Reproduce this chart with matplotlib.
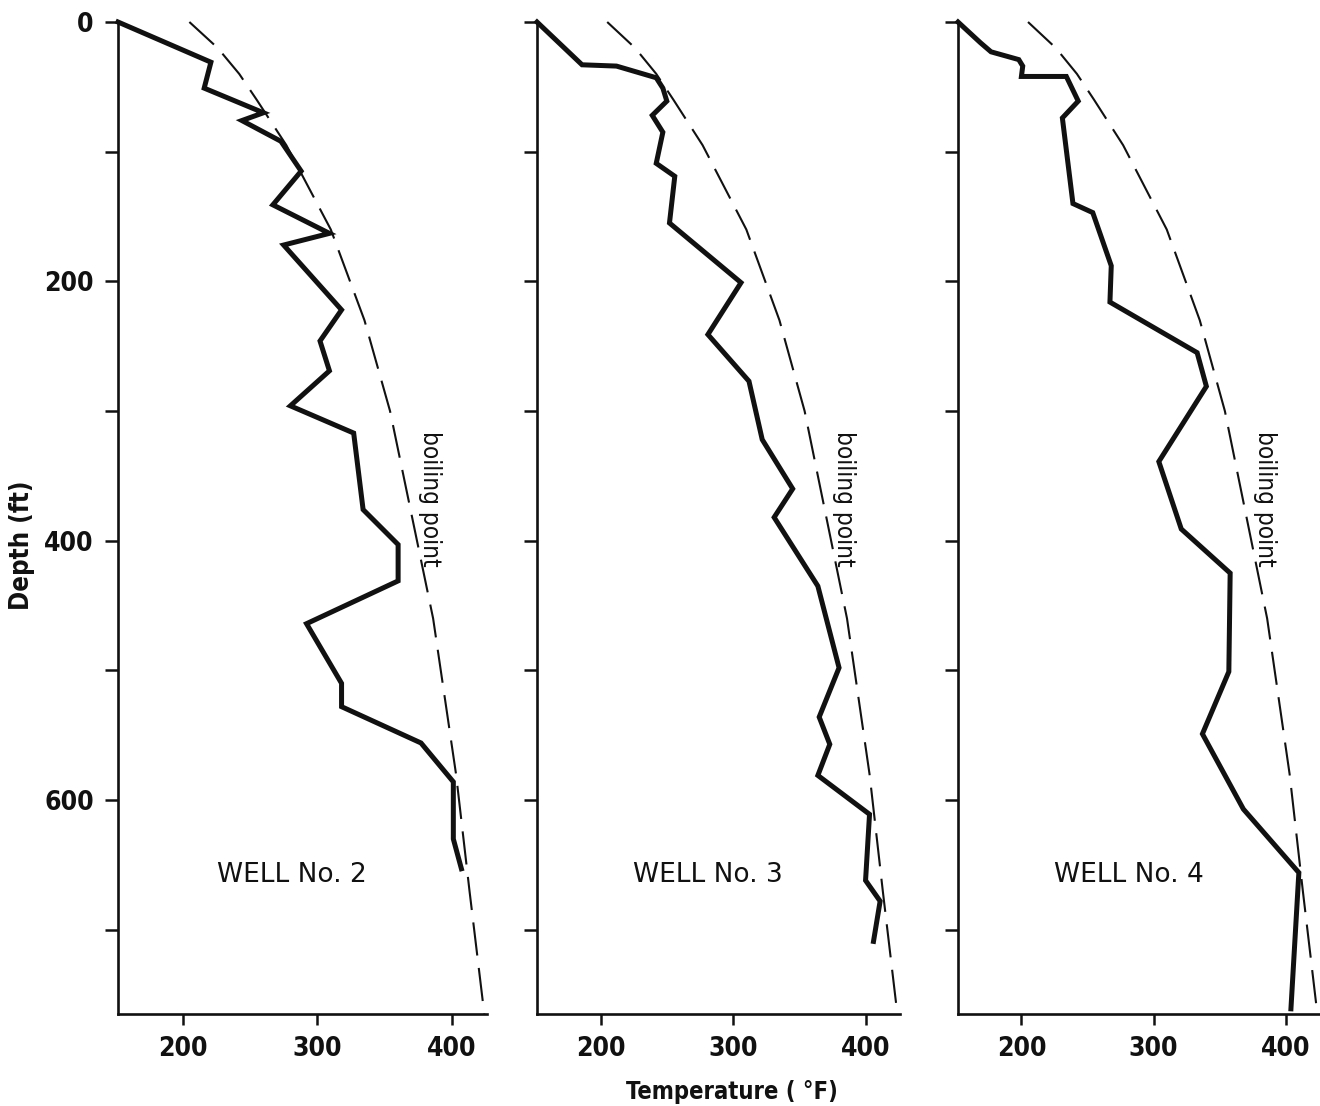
import matplotlib.pyplot as plt
from matplotlib import font_manager

W, H = 1320, 1106

# boiling point with depth (dashed curve, same in each panel)
bp_depth = [0, 20, 40, 60, 95, 160, 230, 300, 370, 460, 580, 670, 765]
bp_temp = [205, 226, 242, 255, 277, 310, 335, 354, 368, 386, 403, 413, 424]

# measured temperature profiles (deg F) vs depth (ft)
well2_temp = [152, 221, 216, 260, 244, 273, 288, 267, 309, 275, 318, 302, 309,
              280, 327, 334, 360, 360, 292, 318, 318, 377, 401, 401, 407]
well2_depth = [0, 31, 51, 70, 76, 92, 115, 141, 163, 172, 222, 246, 269,
               296, 317, 376, 403, 431, 464, 510, 528, 556, 586, 630, 653]

well3_temp = [152, 186, 212, 242, 247, 250, 239, 247, 242, 256, 252, 306, 281,
              312, 322, 345, 331, 364, 380, 365, 373, 364, 403, 400, 411, 406]
well3_depth = [0, 33, 34, 43, 51, 61, 72, 85, 109, 119, 155, 201, 241,
               277, 322, 360, 382, 435, 498, 536, 557, 581, 611, 662, 678, 709]

well4_temp = [152, 169, 177, 198, 201, 200, 234, 243, 231, 239, 254, 268, 267,
              333, 340, 304, 321, 358, 357, 337, 368, 410, 404]
well4_depth = [0, 16, 23, 29, 34, 42, 42, 61, 74, 140, 147, 188, 216,
               255, 281, 339, 391, 425, 501, 549, 607, 656, 761]

wells = [("WELL No. 2", well2_temp, well2_depth),
         ("WELL No. 3", well3_temp, well3_depth),
         ("WELL No. 4", well4_temp, well4_depth)]

x_ticks = [200, 300, 400]
y_major = [0, 200, 400, 600]
y_minor = [100, 300, 500, 700]


# the original uses a condensed grotesque; take a condensed face if one is installed
def condensed(weight):
    for f in font_manager.fontManager.ttflist:
        narrow = f.stretch == 'condensed' or 'Condensed' in f.name or 'Narrow' in f.name
        if narrow and f.weight == weight and f.style == 'normal':
            return font_manager.FontProperties(fname=f.fname)
    return None


bold_fp = condensed(700)
reg_fp = condensed(400)
if bold_fp is None:
    bold_fp = font_manager.FontProperties(family='Liberation Sans', weight='bold')
    tick_size, xlabel_size, ylabel_size = 18, 16, 17
else:
    tick_size, xlabel_size, ylabel_size = 19, 17, 18.5
if reg_fp is None:
    reg_fp = font_manager.FontProperties(family='Liberation Sans')
    bp_size = 18
else:
    bp_size = 17.5

ink = '#111111'

fig = plt.figure(figsize=(W / 100, H / 100), dpi=100)
fig.patch.set_facecolor('white')

lefts = [118, 537, 958]
widths = [369, 363, 362]
top, bottom = 22, 1014

for i, (name, temp, depth) in enumerate(wells):
    ax = fig.add_axes([lefts[i] / W, (H - bottom) / H, widths[i] / W, (bottom - top) / H])
    ax.plot(bp_temp, bp_depth, color=ink, lw=1.5, dashes=(16, 6), clip_on=False)
    ax.plot(temp, depth, color=ink, lw=3.6, solid_joinstyle='miter', clip_on=False)

    ax.set_xlim(152, 426)
    ax.set_ylim(765, 0)
    for s in ['top', 'right']:
        ax.spines[s].set_visible(False)
    for s in ['left', 'bottom']:
        ax.spines[s].set_linewidth(1.9)
        ax.spines[s].set_color(ink)

    ax.set_xticks(x_ticks)
    ax.set_yticks(y_major)
    ax.set_yticks(y_minor, minor=True)
    ax.tick_params(axis='x', direction='out', length=8, width=1.8, pad=8, colors=ink)
    ax.tick_params(axis='y', which='both', direction='out', length=9.4, width=1.8,
                   pad=8, colors=ink)
    for lab in ax.get_xticklabels() + ax.get_yticklabels():
        lab.set_fontproperties(bold_fp)
        lab.set_fontsize(tick_size)
    if i > 0:
        ax.tick_params(axis='y', labelleft=False)

    ax.text(281, 658, name, ha='center', va='center', fontsize=19,
            family='DejaVu Sans', color=ink)
    ax.text(384, 368, "boiling point", ha='center', va='center', rotation=-90,
            fontproperties=reg_fp, fontsize=bp_size, color=ink)

fig.text(22 / W, 1 - 545 / H, "Depth (ft)", rotation=90, ha='center', va='center',
         fontproperties=bold_fp, fontsize=ylabel_size, color=ink)
fig.text(732 / W, 1 - 1092 / H, "Temperature ( °F)", ha='center', va='center',
         fontproperties=bold_fp, fontsize=xlabel_size, color=ink)

fig.savefig('out.png', dpi=100)
